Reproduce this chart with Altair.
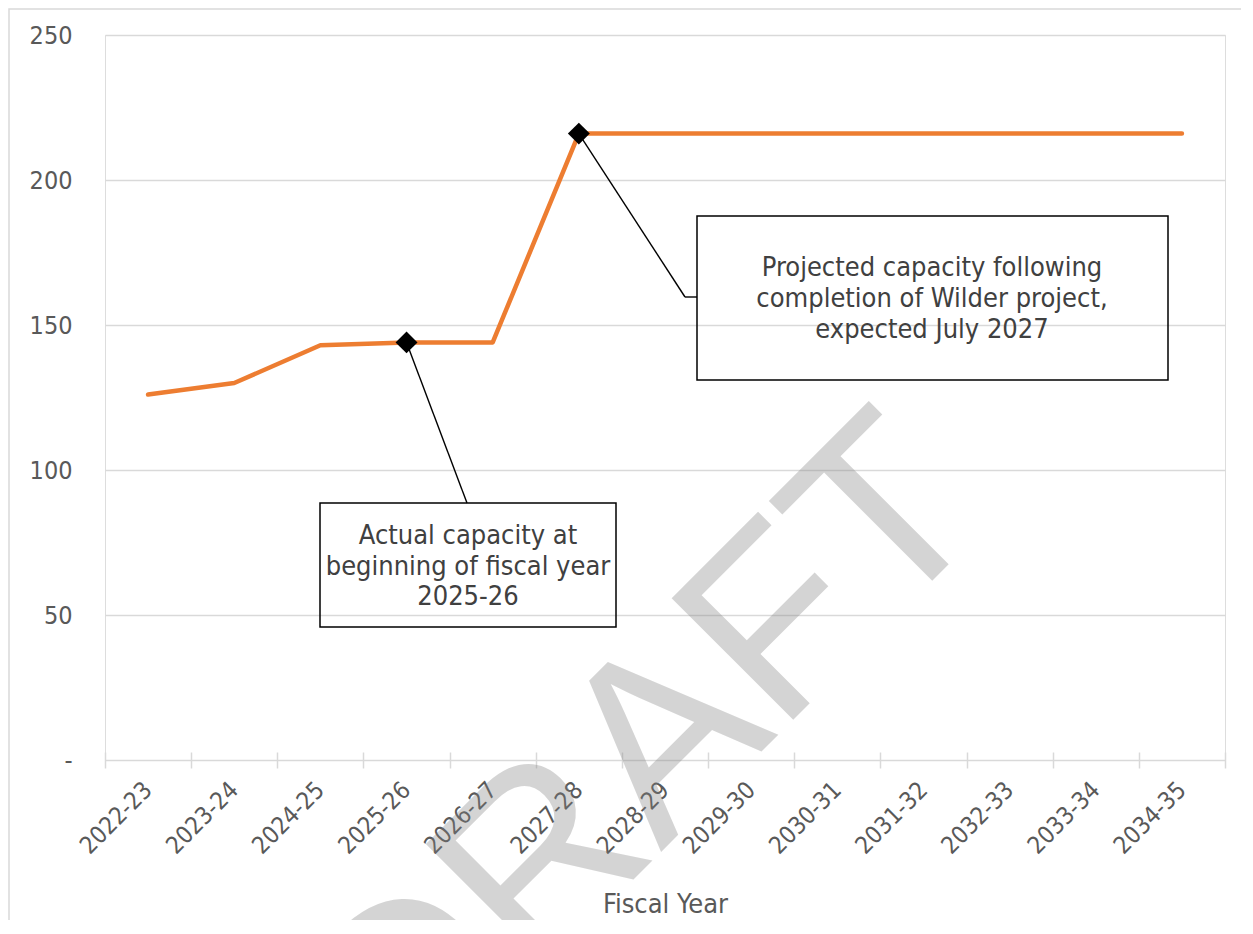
import altair as alt
import pandas as pd

years = ["2022-23", "2023-24", "2024-25", "2025-26", "2026-27", "2027-28", "2028-29",
         "2029-30", "2030-31", "2031-32", "2032-33", "2033-34", "2034-35"]
capacity = [126, 130, 143, 144, 144, 216, 216, 216, 216, 216, 216, 216, 216]
y_ticks = [0, 50, 100, 150, 200, 250]
marker_years = ["2025-26", "2027-28"]
note_actual = "Actual capacity at\nbeginning of fiscal year\n2025-26"
note_projected = "Projected capacity following\ncompletion of Wilder project,\nexpected July 2027"

FONT = "DejaVu Sans Condensed"
W, H = 1120, 725

df = pd.DataFrame({"year": years, "capacity": capacity})
one = alt.Data(values=[{"k": 1}])

xenc = alt.X("year:N", sort=years,
             scale=alt.Scale(paddingInner=0, paddingOuter=0),
             axis=alt.Axis(title="Fiscal Year", labelAngle=315, labelAlign="right",
                           labelBaseline="middle", tickBand="extent", domain=False,
                           ticks=True, tickSize=16, tickColor="#d9d9d9", tickWidth=1.5,
                           offset=-8, labelPadding=18, labelColor="#595959",
                           labelFontSize=24, labelFont=FONT, titleFont=FONT,
                           titleFontSize=27, titleColor="#595959", titleFontWeight="normal",
                           titleBaseline="alphabetic", titleY=160, grid=False))
yenc = alt.Y("capacity:Q", scale=alt.Scale(domain=[0, 250], nice=False),
             axis=alt.Axis(values=y_ticks, title=None, domain=False, ticks=False,
                           labelPadding=33, labelColor="#595959", labelFontSize=25,
                           labelFont=FONT, gridColor="#d9d9d9", gridWidth=1.5,
                           labelExpr="datum.value == 0 ? '-\u00a0\u00a0' : datum.label"))

border = alt.Chart(one).mark_rect(fill="white", fillOpacity=0, stroke="#d9d9d9",
                                  strokeWidth=1.5).encode(
    x=alt.value(-96), x2=alt.value(W + 60), y=alt.value(-26), y2=alt.value(H + 300))

line = alt.Chart(df).mark_line(color="#ED7D31", strokeWidth=4.5, strokeCap="round",
                               strokeJoin="round").encode(x=xenc, y=yenc)

base = alt.Chart(df)
lead1 = base.transform_filter(alt.datum.year == marker_years[0]).mark_rule(
    color="black", strokeWidth=1.4).encode(
    x=alt.X("year:N", sort=years), y="capacity:Q", x2=alt.value(362), y2=alt.value(468))
lead2 = base.transform_filter(alt.datum.year == marker_years[1]).mark_rule(
    color="black", strokeWidth=1.4).encode(
    x=alt.X("year:N", sort=years), y="capacity:Q", x2=alt.value(580), y2=alt.value(262))
lead2b = alt.Chart(one).mark_rule(color="black", strokeWidth=1.4).encode(
    x=alt.value(580), x2=alt.value(592), y=alt.value(262), y2=alt.value(262))

diamonds = base.transform_filter(
    alt.FieldOneOfPredicate(field="year", oneOf=marker_years)).mark_point(
    shape="diamond", filled=True, color="black", size=480, opacity=1).encode(
    x=alt.X("year:N", sort=years), y="capacity:Q")

box1 = alt.Chart(one).mark_rect(fill="white", fillOpacity=0, stroke="black",
                                strokeWidth=1.5).encode(
    x=alt.value(215), x2=alt.value(511), y=alt.value(468), y2=alt.value(592))
box2 = alt.Chart(one).mark_rect(fill="white", fillOpacity=0, stroke="black",
                                strokeWidth=1.5).encode(
    x=alt.value(592), x2=alt.value(1063), y=alt.value(181), y2=alt.value(345))

text1 = alt.Chart(one).mark_text(font=FONT, fontSize=27, color="#404040", align="center",
                                 baseline="middle", lineBreak="\n", lineHeight=30.5).encode(
    x=alt.value(363), y=alt.value(501), text=alt.value(note_actual))
text2 = alt.Chart(one).mark_text(font=FONT, fontSize=27, color="#404040", align="center",
                                 baseline="middle", lineBreak="\n", lineHeight=31).encode(
    x=alt.value(827), y=alt.value(233), text=alt.value(note_projected))

watermark = alt.Chart(one).mark_text(font="Liberation Sans", fontSize=250, color="#808080",
                                     opacity=0.33, angle=315, align="center",
                                     baseline="alphabetic").encode(
    x=alt.value(595), y=alt.value(778), text=alt.value("DRAFT"))

chart = alt.layer(border, line, lead1, lead2, lead2b, diamonds, box1, box2, text1, text2,
                  watermark).properties(
    width=W, height=H,
    autosize=alt.AutoSizeParams(type="none"),
    padding={"left": 97, "top": 27, "right": 16, "bottom": 160},
).configure_view(stroke=None).configure(background="white")

chart.save("out.html", embed_options={"renderer": "svg", "actions": False})
